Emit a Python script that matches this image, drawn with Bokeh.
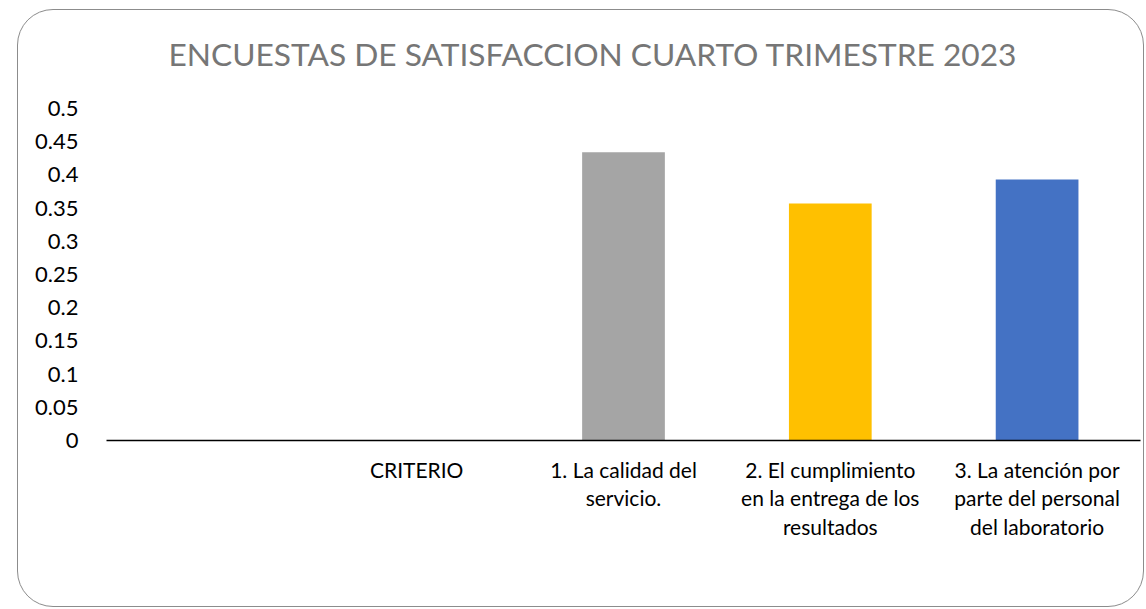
from bokeh.plotting import figure
from bokeh.models import FixedTicker, Label, ColumnDataSource
from bokeh.embed import file_html
from bokeh.resources import INLINE

title_text = "ENCUESTAS DE SATISFACCION CUARTO TRIMESTRE 2023"
categories = [" ", "CRITERIO", "1. La calidad del\nservicio.",
              "2. El cumplimiento\nen la entrega de los\nresultados",
              "3. La atención por\nparte del personal\ndel laboratorio"]
bar_categories = categories[2:]
bar_values = [0.434, 0.357, 0.393]
bar_colors = ["#A5A5A5", "#FFC000", "#4472C4"]
y_ticks = [0, 0.05, 0.1, 0.15, 0.2, 0.25, 0.3, 0.35, 0.4, 0.45, 0.5]
y_tick_labels = ["0", "0.05", "0.1", "0.15", "0.2", "0.25", "0.3", "0.35", "0.4", "0.45", "0.5"]

FONT = "Lato"

# layout (pixels): the frame runs to the top of the canvas so that the title
# can sit inside it; the value axis keeps 0..0.5 over the lower 332 px
H = 598
BOTTOM = 168
TOP_GAP = 98            # distance from canvas top to the 0.5 tick
frame_h = H - BOTTOM
y_max = max(y_ticks) * frame_h / (frame_h - TOP_GAP)

p = figure(x_range=categories, y_range=(0, y_max), width=1127, height=H,
           output_backend="svg", toolbar_location=None,
           min_border_left=88, min_border_right=5, min_border_top=0, min_border_bottom=BOTTOM)
p.styles = {"border": "1px solid #8c8c8c", "border-radius": "36px",
            "margin-left": "17px", "margin-top": "9px"}
p.border_fill_color = None
p.background_fill_color = None
p.outline_line_color = None

src = ColumnDataSource(dict(x=bar_categories, top=bar_values, color=bar_colors))
p.vbar(x="x", top="top", width=0.4, color="color", source=src, line_color=None)

# screen units are measured from the frame's bottom-left corner
title = Label(x=62, y=frame_h - 43, x_units="screen", y_units="screen", text=title_text,
              text_font=FONT, text_font_size="31.7px", text_color="#767676",
              text_align="left", text_baseline="middle")
p.add_layout(title)

p.xgrid.visible = False
p.ygrid.visible = False

xa = p.xaxis[0]
xa.axis_line_color = "#000000"
xa.axis_line_width = 1.5
xa.major_tick_line_color = None
xa.minor_tick_line_color = None
xa.major_label_text_font = FONT
xa.major_label_text_font_size = "21px"
xa.major_label_text_color = "#000000"
xa.major_label_standoff = 10
xa.major_label_text_line_height = 1.15

ya = p.yaxis[0]
ya.ticker = FixedTicker(ticks=y_ticks)
ya.major_label_overrides = {v: s for v, s in zip(y_ticks, y_tick_labels)}
ya.axis_line_color = None
ya.major_tick_line_color = None
ya.minor_tick_line_color = None
ya.major_label_text_font = FONT
ya.major_label_text_font_size = "22px"
ya.major_label_text_color = "#000000"
ya.major_label_standoff = 22

open("out.html", "w").write(file_html(p, INLINE))
